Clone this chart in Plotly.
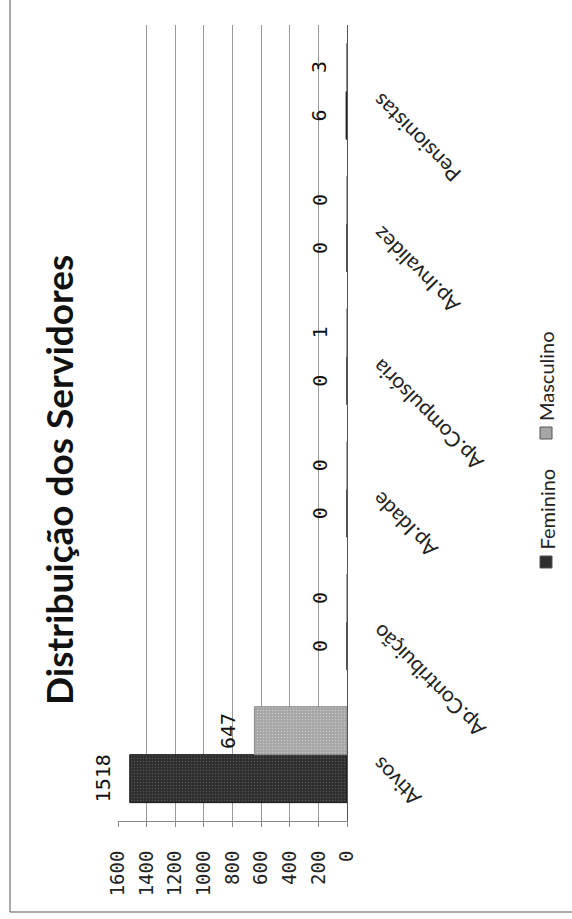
import plotly.graph_objects as go

# ---------------- data ----------------
categories = ["Ativos", "Ap.Contribuição", "Ap.Idade", "Ap.Compulsória", "Ap.Invalidez", "Pensionistas"]
feminino = [1518, 0, 0, 0, 0, 6]
masculino = [647, 0, 0, 1, 0, 3]
series_names = ["Feminino", "Masculino"]
value_ticks = [0, 200, 400, 600, 800, 1000, 1200, 1400, 1600]
value_tick_labels = [str(v) for v in value_ticks]
title_text = "Distribuição dos Servidores"

# ---------------- geometry helpers (page is rotated 90° ccw) ----------------
W, H = 572, 919
L, R, T, B = 118, 225, 25, 98
PW = W - L - R
PH = H - T - B
BARGAP = 0.277


def px_x(px):
    return (px - L) / PW


def px_y(py):
    return (H - B - py) / PH


NUM_FONT = "DejaVu Sans Mono"
CAT_FONT = "Lato"
LEG_FONT = "Liberation Sans Narrow, Arial Narrow, Lato"
COL_FEM = "#2e2e2e"
COL_MASC = "#a6a6a6"

series = [
    (series_names[0], feminino, COL_FEM, "#1a1a1a", "#555555"),
    (series_names[1], masculino, COL_MASC, "#8a8a8a", "#c9c9c9"),
]

fig = go.Figure()
for name, vals, color, lc, fg in series:
    fig.add_trace(go.Bar(
        y=categories, x=vals, orientation="h", name=name,
        marker=dict(color=color, line=dict(color=lc, width=1),
                    pattern=dict(shape=".", bgcolor=color, fgcolor=fg,
                                 size=3, solidity=0.2)),
        showlegend=False, hoverinfo="x+y+name",
    ))

annotations = []
# value labels, placed at each bar's outer end
bar_w = (1 - BARGAP) / len(series)
for s_idx, (name, vals, *_rest) in enumerate(series):
    off = (s_idx - (len(series) - 1) / 2) * bar_w
    for i, v in enumerate(vals):
        annotations.append(dict(
            x=v, xref="x", y=i + off, yref="y", text=str(v), textangle=-90,
            xanchor="right", yanchor="middle", xshift=-13, showarrow=False,
            font=dict(family=NUM_FONT, size=20, color="#111"),
        ))
# category labels (rotated like the scanned page)
for cat in categories:
    annotations.append(dict(
        x=1, xref="paper", y=cat, yref="y", text=cat, textangle=-135,
        xanchor="left", yanchor="top", xshift=17, yshift=5, showarrow=False,
        font=dict(family=CAT_FONT, size=21, color="#222"),
    ))
# title
annotations.append(dict(
    x=px_x(58), y=px_y(480), xref="paper", yref="paper",
    text="<b>" + title_text + "</b>", textangle=-90, showarrow=False,
    xanchor="center", yanchor="middle",
    font=dict(family=CAT_FONT, size=37, color="#111"),
))
# legend (rotated)
leg = [(series_names[0], COL_FEM, 562), (series_names[1], COL_MASC, 433)]
shapes = []
for name, col, cy in leg:
    shapes.append(dict(type="rect", xref="paper", yref="paper",
                       x0=px_x(540), x1=px_x(552), y0=px_y(cy + 6), y1=px_y(cy - 6),
                       fillcolor=col, line=dict(color="#555", width=1)))
    annotations.append(dict(
        x=px_x(546), y=px_y(cy - 10), xref="paper", yref="paper",
        text=name, textangle=-90, showarrow=False,
        xanchor="center", yanchor="bottom",
        font=dict(family=LEG_FONT, size=20, color="#222"),
    ))
# page border (left and bottom edges of the scanned frame)
shapes.append(dict(type="line", xref="paper", yref="paper",
                   x0=px_x(10), x1=px_x(10), y0=px_y(0), y1=px_y(912),
                   line=dict(color="#555", width=1)))
shapes.append(dict(type="line", xref="paper", yref="paper",
                   x0=px_x(10), x1=px_x(572), y0=px_y(912), y1=px_y(912),
                   line=dict(color="#555", width=1)))

fig.update_layout(
    template="none",
    width=W, height=H,
    margin=dict(l=L, r=R, t=T, b=B, pad=0),
    paper_bgcolor="white", plot_bgcolor="white",
    barmode="group", bargap=BARGAP, bargroupgap=0,
    showlegend=False,
    annotations=annotations,
    shapes=shapes,
    xaxis=dict(
        range=[1600, 0], tickvals=value_ticks, ticktext=value_tick_labels,
        tickangle=-90, showgrid=True, gridcolor="#9a9a9a", gridwidth=1,
        showline=True, linecolor="#8a8a8a", linewidth=1, zeroline=False,
        ticks="outside", ticklen=5, tickcolor="#8a8a8a",
        tickfont=dict(family=NUM_FONT, size=19, color="#222"),
        ticklabelstandoff=16,
    ),
    yaxis=dict(
        type="category", side="right", showline=True, linecolor="#555",
        linewidth=1, showticklabels=False, ticks="", showgrid=False,
        zeroline=False,
    ),
)

fig.write_html("out.html", config={"displayModeBar": False},
               post_script="document.body.style.margin='0';")
